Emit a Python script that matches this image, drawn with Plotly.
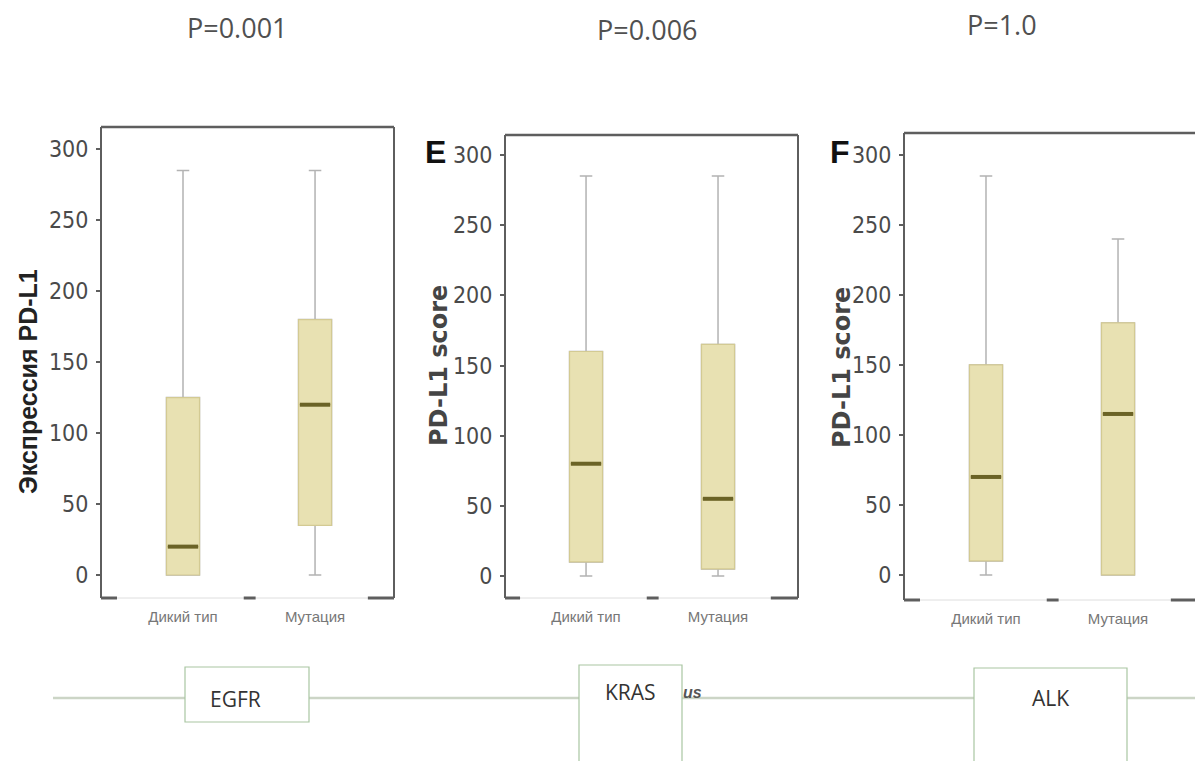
import plotly.graph_objects as go

# --- data -------------------------------------------------------------
groups = ["Дикий тип", "Мутация"]
genes = ["EGFR", "KRAS", "ALK"]
p_labels = ["P=0.001", "P=0.006", "P=1.0"]
panel_letters = ["", "E", "F"]
y_titles = ["Экспрессия PD-L1", "PD-L1 score", "PD-L1 score"]
y_ticks = [0, 50, 100, 150, 200, 250, 300]

# five-number summaries per gene: [wild type, mutation]
egfr_low = [0, 0]
egfr_q1 = [0, 35]
egfr_median = [20, 120]
egfr_q3 = [125, 180]
egfr_high = [285, 285]

kras_low = [0, 0]
kras_q1 = [10, 5]
kras_median = [80, 55]
kras_q3 = [160, 165]
kras_high = [285, 285]

alk_low = [0, 0]
alk_q1 = [10, 0]
alk_median = [70, 115]
alk_q3 = [150, 180]
alk_high = [285, 240]

stats = [
    (egfr_low, egfr_q1, egfr_median, egfr_q3, egfr_high),
    (kras_low, kras_q1, kras_median, kras_q3, kras_high),
    (alk_low, alk_q1, alk_median, alk_q3, alk_high),
]

# --- page geometry (pixels) ------------------------------------------
W, H = 1195, 761
def fx(px):
    return px / W
def fy(py):
    return 1 - py / H

# left, right, top, bottom of each plotting area; y ranges; x ranges
panels = [
    dict(l=101, r=394, t=127, b=598, yr=[-16.2, 315.7], xr=[-0.621, 1.598], right=True),
    dict(l=505, r=798, t=135, b=598, yr=[-15.7, 314.3], xr=[-0.614, 1.606], right=True),
    dict(l=904, r=1195, t=133, b=600, yr=[-17.9, 315.7], xr=[-0.621, 1.583], right=False),
]

BOX_FILL = "#e8e1b2"
BOX_EDGE = "#d3ca93"
WHISKER = "#b3b3b3"
MEDIAN = "#6b6326"
FRAME = "#5e5e5e"
BOX_W = 0.25

fig = go.Figure()
shapes = []
annotations = []

def note(text, xpx, ypx, font, angle=0):
    annotations.append(dict(text=text, x=fx(xpx), y=fy(ypx), xref="paper", yref="paper",
                            xanchor="center", yanchor="middle", textangle=angle,
                            showarrow=False, font=font))

for i, (p, st) in enumerate(zip(panels, stats)):
    low, q1, med, q3, high = st
    sfx = "" if i == 0 else str(i + 1)
    xa, ya = "x" + sfx, "y" + sfx
    xs = list(range(len(groups)))

    # whiskers with caps
    fig.add_trace(go.Box(
        x=xs, q1=q1, median=med, q3=q3, lowerfence=low, upperfence=high,
        width=BOX_W, whiskerwidth=0.38, fillcolor=BOX_FILL,
        line=dict(color=WHISKER, width=1.5), boxpoints=False,
        hoverinfo="skip", xaxis=xa, yaxis=ya,
    ))
    # box body (interquartile range)
    fig.add_trace(go.Box(
        x=xs, q1=q1, median=med, q3=q3, lowerfence=q1, upperfence=q3,
        width=BOX_W, whiskerwidth=0, fillcolor=BOX_FILL,
        line=dict(color=BOX_EDGE, width=1.2), boxpoints=False,
        hoverinfo="skip", xaxis=xa, yaxis=ya,
    ))
    # medians
    for x, m in zip(xs, med):
        fig.add_trace(go.Scatter(
            x=[x - BOX_W / 2 + 0.01, x + BOX_W / 2 - 0.01], y=[m, m],
            mode="lines", line=dict(color=MEDIAN, width=4),
            hoverinfo="skip", xaxis=xa, yaxis=ya,
        ))

    xkey = "xaxis" + sfx
    ykey = "yaxis" + sfx
    fig.layout[xkey] = dict(
        domain=[fx(p["l"]), fx(p["r"])], range=p["xr"], anchor=ya,
        tickvals=xs, ticktext=groups, ticks="", showgrid=False, zeroline=False,
        showline=False, ticklabelstandoff=8,
        tickfont=dict(family="Liberation Sans, Arial, sans-serif", size=15, color="#777777"),
    )
    fig.layout[ykey] = dict(
        domain=[fy(p["b"]), fy(p["t"])], range=p["yr"], anchor=xa,
        tickvals=y_ticks, ticks="outside", ticklen=4, tickwidth=2, tickcolor=FRAME,
        showgrid=False, zeroline=False, showline=False, ticklabelstandoff=3,
        tickfont=dict(family="DejaVu Sans Condensed, Liberation Sans Narrow, Liberation Sans, sans-serif",
                      size=23, color="#4a4a4a"),
    )

    # frame: left, top, (right), faint bottom, and heavy bottom segments
    xd, yd = xa + " domain", ya + " domain"
    shapes.append(dict(type="line", xref=xd, yref=yd, x0=0, x1=0, y0=0, y1=1,
                       line=dict(color=FRAME, width=2)))
    shapes.append(dict(type="line", xref=xd, yref=yd, x0=0, x1=1.02 if not p["right"] else 1, y0=1, y1=1,
                       line=dict(color=FRAME, width=2.5)))
    if p["right"]:
        shapes.append(dict(type="line", xref=xd, yref=yd, x0=1, x1=1, y0=0, y1=1,
                           line=dict(color=FRAME, width=2)))
    shapes.append(dict(type="line", xref=xd, yref=yd, x0=0, x1=1, y0=0, y1=0,
                       line=dict(color="#dedede", width=1)))
    for a, b in [(p["xr"][0], -0.5), (0.46, 0.55), (1.4, p["xr"][1])]:
        shapes.append(dict(type="line", xref=xa, yref=yd, x0=a, x1=b, y0=0, y1=0,
                           line=dict(color=FRAME, width=3)))

# y-axis titles
note("<b>%s</b>" % y_titles[0], 28, 382,
     dict(family="Liberation Sans, Arial, sans-serif", size=25, color="#222222"), angle=-90)
for xpx, ypx, t in [(439, 366, y_titles[1]), (842, 368, y_titles[2])]:
    note("<b>%s</b>" % t, xpx, ypx,
         dict(family="DejaVu Sans, sans-serif", size=24, color="#454545"), angle=-90)

# panel letters
for xpx, letter in [(435, panel_letters[1]), (840, panel_letters[2])]:
    note("<b>%s</b>" % letter, xpx, 152,
         dict(family="Liberation Sans, Arial, sans-serif", size=32, color="#111111"))

# p-values
for (xpx, ypx), t in zip([(237, 28), (647, 30), (1002, 25)], p_labels):
    note(t, xpx, ypx, dict(family="Open Sans, sans-serif", size=27, color="#505050"))

# connector line and gene boxes
shapes.append(dict(type="line", xref="paper", yref="paper", x0=fx(53), x1=fx(1200), y0=fy(698), y1=fy(698),
                   line=dict(color="#ccd5c6", width=2.5)))
gene_boxes = [(185, 309, 667, 722), (579, 682, 665, 790), (974, 1127, 668, 790)]
gene_text_pos = [(235, 699), (631, 692), (1050, 698)]
for (l, r, t, b), (tx, ty), g in zip(gene_boxes, gene_text_pos, genes):
    shapes.append(dict(type="rect", xref="paper", yref="paper", x0=fx(l), x1=fx(r), y0=fy(b), y1=fy(t),
                       line=dict(color="#a9c6a2", width=1.2), fillcolor="white"))
    note(g, tx, ty, dict(family="Open Sans, sans-serif", size=21, color="#333333"))
note("<i><b>us</b></i>", 692, 692, dict(family="Liberation Sans, Arial, sans-serif", size=16, color="#555555"))

fig.update_layout(
    width=W, height=H, autosize=False,
    margin=dict(l=0, r=0, t=0, b=0),
    paper_bgcolor="white", plot_bgcolor="white",
    showlegend=False, boxmode="overlay",
    shapes=shapes, annotations=annotations,
)

fig.write_html("out.html")
